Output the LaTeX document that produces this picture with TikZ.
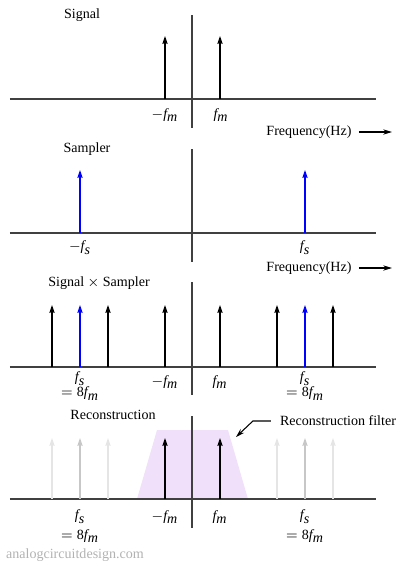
\documentclass[tikz,border=0pt]{standalone}
\usepackage{fontspec}
\setmainfont{Liberation Serif}
\usetikzlibrary{arrows.meta}
\definecolor{lavender}{RGB}{240,224,250}
\newcommand{\freqsym}[1]{\textit{f}_{\textit{#1}}}

\begin{document}
\begin{tikzpicture}[x=0.02cm, y=-0.02cm,
    axisline/.style={line width=0.75pt, black!75},
    impulse/.style={line width=0.6pt, black, -{Stealth[length=4.5pt,width=3pt,inset=0.6pt]}},
    sampimp/.style={impulse, blue},
    ghost/.style={impulse, black!10},
    ghostdark/.style={impulse, black!22},
    lbl/.style={font=\fontsize{8}{9}\selectfont, inner sep=1pt},
    stack/.style={lbl, align=center, font=\fontsize{8}{7.8}\selectfont},
    freqarrow/.style={line width=0.6pt, -{Stealth[length=5pt,width=3pt]}},
    filterfill/.style={fill=lavender, draw=none}]

  \useasboundingbox (0,0) rectangle (400,566);

  %% ===== PANEL 1: SIGNAL =====
  \begin{scope}[shift={(0,99)}]

    % Axes
    \draw[axisline] (10,0) -- (376,0);
    \draw[axisline] (192,-84) -- (192,29);

    % Message components
    \foreach \fx in {165,220} \draw[impulse] (\fx,0) -- (\fx,-63);

    % Labels
    \node[lbl] (sig-title) at (82,-84) {Signal};
    \node[lbl] (sig-nfm) at (165,16) {$-\freqsym{m}$};
    \node[lbl] (sig-fm) at (221,16) {$\freqsym{m}$};
    \node[lbl] (freq1) at (309,33) {Frequency(Hz)};
    \coordinate (freq1-end) at (392,33);
    \draw[freqarrow] ([xshift=3pt]freq1.east) -- (freq1-end);
  \end{scope}

  %% ===== PANEL 2: SAMPLER =====
  \begin{scope}[shift={(0,233)}]

    % Axes
    \draw[axisline] (10,0) -- (376,0);
    \draw[axisline] (192,-84) -- (192,29);

    % Sampling impulses
    \foreach \fx in {80,305} \draw[sampimp] (\fx,0) -- (\fx,-63);

    % Labels
    \node[lbl] (samp-title) at (87,-84) {Sampler};
    \node[lbl] (samp-nfs) at (80,15) {$-\freqsym{s}$};
    \node[lbl] (samp-fs) at (305,15) {$\freqsym{s}$};
    \node[lbl] (freq2) at (309,35) {Frequency(Hz)};
    \coordinate (freq2-end) at (392,35);
    \draw[freqarrow] ([xshift=3pt]freq2.east) -- (freq2-end);
  \end{scope}

  %% ===== PANEL 3: PRODUCT =====
  \begin{scope}[shift={(0,367)}]

    % Axes
    \draw[axisline] (10,0) -- (376,0);
    \draw[axisline] (192,-85) -- (192,28);

    % Shifted copies and sampler lines
    \foreach \fx in {52,108,165,220,277,333} \draw[impulse] (\fx,0) -- (\fx,-62);
    \foreach \fx in {80,305} \draw[sampimp] (\fx,0) -- (\fx,-62);

    % Labels
    \node[lbl] (prod-title) at (99,-84) {Signal $\times$ Sampler};
    \node[stack] (prod-nfs) at (80,19) {$\freqsym{s}$\\$=\textrm{8}\freqsym{m}$};
    \node[lbl] (prod-nfm) at (165,15) {$-\freqsym{m}$};
    \node[lbl] (prod-fm) at (220,15) {$\freqsym{m}$};
    \node[stack] (prod-fs) at (305,19) {$\freqsym{s}$\\$=\textrm{8}\freqsym{m}$};
  \end{scope}

  %% ===== PANEL 4: RECONSTRUCTION =====
  \begin{scope}[shift={(0,499)}]

    % Low-pass window
    \fill[filterfill] (137,0) -- (157,-69) -- (228,-69) -- (248,0) -- cycle;

    % Axes
    \draw[axisline] (10,0) -- (376,0);
    \draw[axisline] (192,-83) -- (192,29);

    % Suppressed images (faded) and recovered signal
    \foreach \fx in {52,108,277,333} \draw[ghost] (\fx,0) -- (\fx,-61);
    \foreach \fx in {80,305} \draw[ghostdark] (\fx,0) -- (\fx,-61);
    \foreach \fx in {165,220} \draw[impulse] (\fx,0) -- (\fx,-61);

    % Labels
    \node[lbl] (rec-title) at (113,-84) {Reconstruction};
    \node[lbl] (rec-nfs) at (80,18) {$\freqsym{s}$};
    \node[lbl] (rec-nfs2) at (80,37) {$=\textrm{8}\freqsym{m}$};
    \node[lbl] (rec-nfm) at (165,18) {$-\freqsym{m}$};
    \node[lbl] (rec-fm) at (220,18) {$\freqsym{m}$};
    \node[lbl] (rec-fs) at (305,18) {$\freqsym{s}$};
    \node[lbl] (rec-fs2) at (305,37) {$=\textrm{8}\freqsym{m}$};

    % Filter callout
    \node[lbl] (filt) at (338,-78) {Reconstruction filter};
    \coordinate (filt-tip) at (236,-62);
    \draw[freqarrow] ([xshift=-4pt]filt.west) -- ++(-18,0) -- (filt-tip);
  \end{scope}

  % Watermark
  \node[lbl, black!30] (mark) at (75,555) {analogcircuitdesign.com};

\end{tikzpicture}
\end{document}
